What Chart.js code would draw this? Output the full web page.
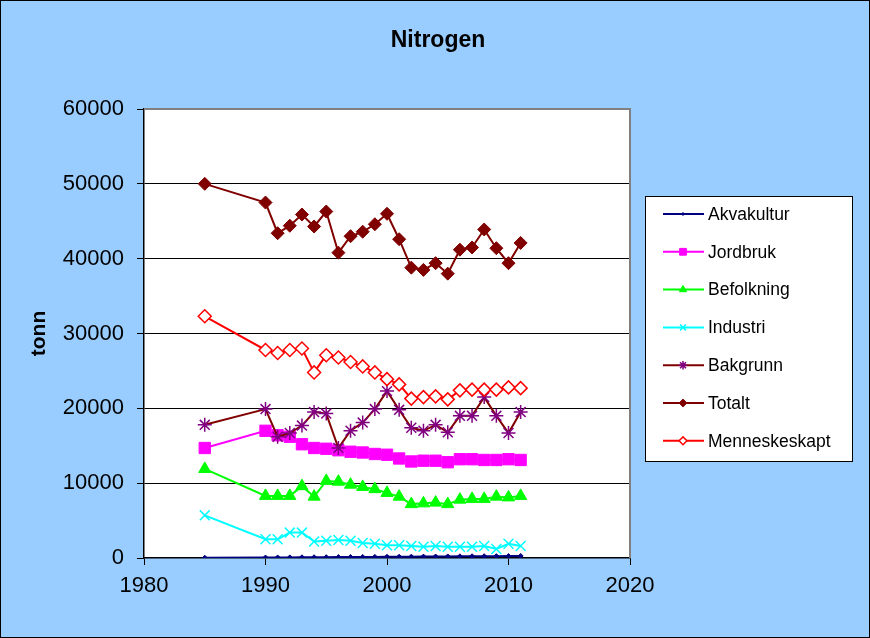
<!DOCTYPE html>
<html>
<head>
<meta charset="utf-8">
<script src="https://cdn.jsdelivr.net/npm/chart.js@4/dist/chart.umd.min.js"></script>
<style>
  html, body { margin: 0; padding: 0; background: #99CCFF; }
  canvas { display: block; }
</style>
</head>
<body>
<canvas id="nitrogenChart" width="870" height="638"></canvas>
<script>
// Data (tonn)
const years = [1985, 1990, 1991, 1992, 1993, 1994, 1995, 1996, 1997, 1998, 1999, 2000,
  2001, 2002, 2003, 2004, 2005, 2006, 2007, 2008, 2009, 2010, 2011];
const akvakultur = [30, 60, 70, 80, 90, 100, 110, 120, 130, 140, 150, 160,
  170, 180, 190, 200, 210, 220, 230, 240, 250, 260, 270];
const jordbruk = [14700, 17000, 16400, 16200, 15200, 14700, 14600, 14400, 14200, 14100, 13900, 13800,
  13300, 12900, 13000, 13000, 12800, 13200, 13200, 13100, 13100, 13200, 13100];
const befolkning = [11900, 8300, 8300, 8300, 9600, 8200, 10300, 10200, 9800, 9500, 9200, 8700,
  8200, 7200, 7300, 7400, 7200, 7800, 7900, 7900, 8200, 8100, 8300];
const industri = [5700, 2500, 2500, 3400, 3400, 2200, 2300, 2400, 2300, 2000, 1900, 1700,
  1700, 1600, 1500, 1600, 1500, 1500, 1500, 1600, 1200, 1900, 1600];
const bakgrunn = [17800, 19900, 16200, 16700, 17700, 19500, 19300, 14700, 17000, 18100, 19900, 22300,
  19800, 17400, 17000, 17800, 16800, 19000, 19000, 21500, 19000, 16700, 19500];
const totalt = [50000, 47500, 43400, 44400, 45900, 44300, 46300, 40800, 43000, 43600, 44600, 46000,
  42600, 38800, 38500, 39400, 38000, 41200, 41500, 43900, 41400, 39400, 42100];
const menneskeskapt = [32300, 27800, 27400, 27800, 28000, 24800, 27100, 26800, 26200, 25600, 24800, 23900,
  23200, 21300, 21500, 21600, 21200, 22400, 22500, 22500, 22500, 22800, 22700];

const FONT = "Arial, 'Liberation Sans', sans-serif";

function pts(values) {
  return years.map((y, i) => ({ x: y, y: values[i] }));
}

const series = [
  { label: "Akvakultur", data: akvakultur, line: "#000080", fill: "#000080", stroke: "#000080", style: "rectRot", r: 2.5, bw: 1 },
  { label: "Jordbruk", data: jordbruk, line: "#FF00FF", fill: "#FF00FF", stroke: "#FF00FF", style: "rect", r: 8, bw: 1 },
  { label: "Befolkning", data: befolkning, line: "#00FF00", fill: "#00FF00", stroke: "#00FF00", style: "triangle", r: 7, bw: 1 },
  { label: "Industri", data: industri, line: "#00FFFF", fill: "#00FFFF", stroke: "#00FFFF", style: "crossRot", r: 7, bw: 1.5 },
  { label: "Bakgrunn", data: bakgrunn, line: "#800000", fill: "#800080", stroke: "#800080", style: "star", r: 7, bw: 1.5 },
  { label: "Totalt", data: totalt, line: "#800000", fill: "#800000", stroke: "#800000", style: "rectRot", r: 6.5, bw: 1 },
  { label: "Menneskeskapt", data: menneskeskapt, line: "#FF0000", fill: "#FFFFFF", stroke: "#FF0000", style: "rectRot", r: 6.5, bw: 1.5 },
];

// background, plot area, frame, title
const backdrop = {
  id: "backdrop",
  beforeDraw(chart) {
    const { ctx, chartArea: a, width, height } = chart;
    ctx.save();
    ctx.fillStyle = "#99CCFF";
    ctx.fillRect(0, 0, width, height);
    ctx.strokeStyle = "#000";
    ctx.lineWidth = 1;
    ctx.strokeRect(0.5, 0.5, width - 1, height - 1);
    ctx.fillStyle = "#FFFFFF";
    ctx.fillRect(a.left, a.top, a.right - a.left, a.bottom - a.top);
    ctx.fillStyle = "#000";
    ctx.font = "bold 23px " + FONT;
    ctx.textAlign = "center";
    ctx.textBaseline = "middle";
    ctx.fillText("Nitrogen", 438, 41);
    ctx.restore();
  },
  beforeDatasetsDraw(chart) {
    const { ctx, chartArea: a } = chart;
    ctx.save();
    ctx.strokeStyle = "#808080";
    ctx.lineWidth = 2;
    ctx.beginPath();
    ctx.moveTo(a.left, a.top);
    ctx.lineTo(a.right, a.top);
    ctx.lineTo(a.right, a.bottom);
    ctx.stroke();
    ctx.restore();
  },
};

// Excel-like legend box
const legendBox = {
  id: "legendBox",
  afterDraw(chart) {
    const ctx = chart.ctx;
    ctx.save();
    ctx.fillStyle = "#FFFFFF";
    ctx.fillRect(645, 196, 207, 265);
    ctx.strokeStyle = "#000";
    ctx.lineWidth = 1;
    ctx.strokeRect(645.5, 196.5, 207, 265);
    ctx.font = "17.5px " + FONT;
    ctx.textBaseline = "middle";
    series.forEach((s, i) => {
      const y = 214 + i * 37.8;
      ctx.strokeStyle = s.line;
      ctx.lineWidth = 2;
      ctx.beginPath();
      ctx.moveTo(663, y);
      ctx.lineTo(704, y);
      ctx.stroke();
      ctx.fillStyle = s.fill;
      ctx.strokeStyle = s.stroke;
      ctx.lineWidth = s.bw;
      Chart.helpers.drawPoint(ctx, { pointStyle: s.style, radius: s.r * 0.6, borderWidth: s.bw, rotation: 0 }, 683, y);
      ctx.fillStyle = "#000";
      ctx.fillText(s.label, 708, y + 1);
    });
    ctx.restore();
  },
};

new Chart(document.getElementById("nitrogenChart"), {
  type: "scatter",
  data: {
    datasets: series.map((s, i) => ({
      label: s.label,
      data: pts(s.data),
      showLine: true,
      borderColor: s.line,
      borderWidth: 2,
      pointStyle: s.style,
      pointRadius: s.r,
      pointBackgroundColor: s.fill,
      pointBorderColor: s.stroke,
      pointBorderWidth: s.bw,
      order: series.length - i,
    })),
  },
  options: {
    responsive: false,
    animation: false,
    layout: { padding: { left: 0, right: 240, top: 109, bottom: 0 } },
    plugins: {
      legend: { display: false },
      tooltip: { enabled: false },
      title: { display: false },
    },
    scales: {
      x: {
        type: "linear",
        min: 1980,
        max: 2020,
        afterFit(scale) { scale.height = 80; },
        ticks: {
          stepSize: 10,
          color: "#000",
          padding: 8,
          font: { family: FONT, size: 22 },
          callback: (v) => String(v),
        },
        grid: { drawOnChartArea: false, drawTicks: true, tickLength: 7, tickColor: "#000" },
        border: { color: "#000", width: 1.5 },
      },
      y: {
        min: 0,
        max: 60000,
        afterFit(scale) { scale.width = 144; },
        ticks: {
          stepSize: 10000,
          color: "#000",
          padding: 13,
          font: { family: FONT, size: 22 },
          callback: (v) => String(v),
        },
        grid: {
          color: (c) => (c.tick && (c.tick.value === 0 || c.tick.value === 60000) ? "rgba(0,0,0,0)" : "#000"),
          lineWidth: 1,
          borderDash: [3, 2],
          drawTicks: true,
          tickLength: 7,
          tickColor: "#000",
          tickBorderDash: [],
        },
        border: { color: "#000", width: 1.5 },
        title: {
          display: true,
          text: "tonn",
          color: "#000",
          font: { family: FONT, size: 21, weight: "bold" },
          padding: { top: 27, bottom: 0 },
        },
      },
    },
  },
  plugins: [backdrop, legendBox],
});
</script>
</body>
</html>
